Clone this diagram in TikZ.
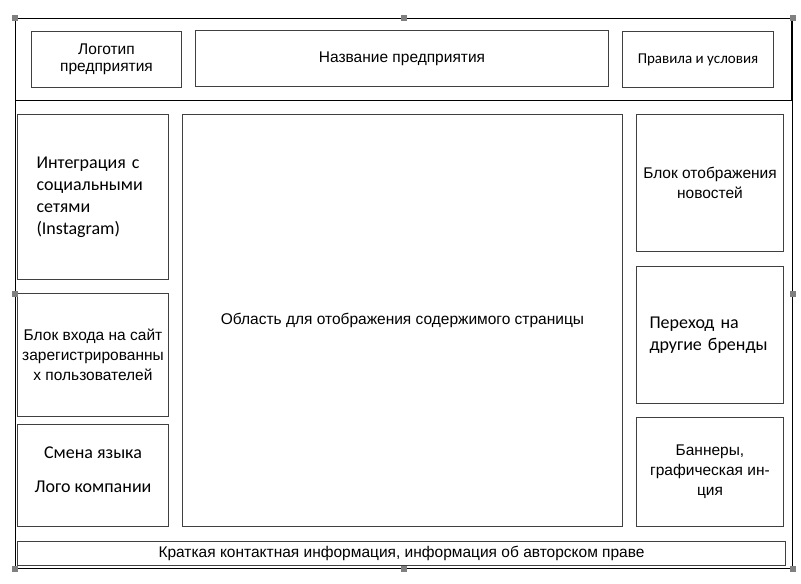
\documentclass[tikz,border=0pt]{standalone}
\usepackage{fontspec}
\usepackage{tikz}
\usepackage{xcolor}
\usetikzlibrary{positioning}
\setmainfont{Liberation Sans}
\newfontfamily\calfont{Carlito}
\definecolor{frameline}{HTML}{404040}
\definecolor{handlegray}{HTML}{808080}

\begin{document}
\begin{tikzpicture}[
    x=1pt, y=-1pt,
    area/.style 2 args={draw=frameline, line width=1pt, anchor=north west, inner sep=0pt,
      minimum width=#1pt, minimum height=#2pt, align=center,
      font=\fontsize{15.5}{20}\selectfont},
    calibri/.style={font=\calfont\fontsize{#1}{22}\selectfont},
    handle/.style={fill=handlegray, minimum size=6pt, inner sep=0pt}
]
\useasboundingbox (0,0) rectangle (801,584);

% Outer frame and header
\node[area={777}{550}, draw=black] (frame) at (15,18) {};
\node[area={776}{82}, draw=black] (header) at (15,18) {};

% Header blocks
\node[area={150}{56}, font=\fontsize{15.5}{17}\selectfont] (logo) at (31,31) {Логотип\\предприятия};
\node[area={413}{56}] (title) at (195,30) {Название предприятия};
\node[area={151}{56}, calibri=15] (rules) at (622,31) {Правила и условия};

% Left column
\node[area={151}{165}, calibri=18, align=left, text width=113pt, inner xsep=19pt] (social) at (17,114)
  {Интеграция с\\социальными\\сетями\\(Instagram)};
\node[area={151}{123}] (login) at (17,293) {Блок входа на сайт\\зарегистрированны\\х пользователей};
\node[area={151}{102}, calibri=18] (lang) at (17,424) {Смена языка\\[12pt]Лого компании\\[-10pt]};

% Content
\node[area={440}{412}] (content) at (182,114) {Область для отображения содержимого страницы};

% Right column
\node[area={147}{137}] (news) at (636,114) {Блок отображения\\новостей};
\node[area={147}{137}, calibri=18, align=left, text width=121pt, inner xsep=13pt] (brands) at (636,266)
  {Переход на\\другие бренды};
\node[area={147}{109}] (banners) at (636,417) {Баннеры,\\графическая ин-\\ция};

% Footer
\node[area={768}{24}] (footer) at (17,541) {Краткая контактная информация, информация об авторском праве};

% Selection handles
\foreach \name/\pos in {h1/frame.north west, h2/frame.north, h3/frame.north east,
    h4/frame.west, h5/frame.east, h6/frame.south west, h7/frame.south, h8/frame.south east}
  \node[handle] (\name) at (\pos) {};

\end{tikzpicture}
\end{document}
